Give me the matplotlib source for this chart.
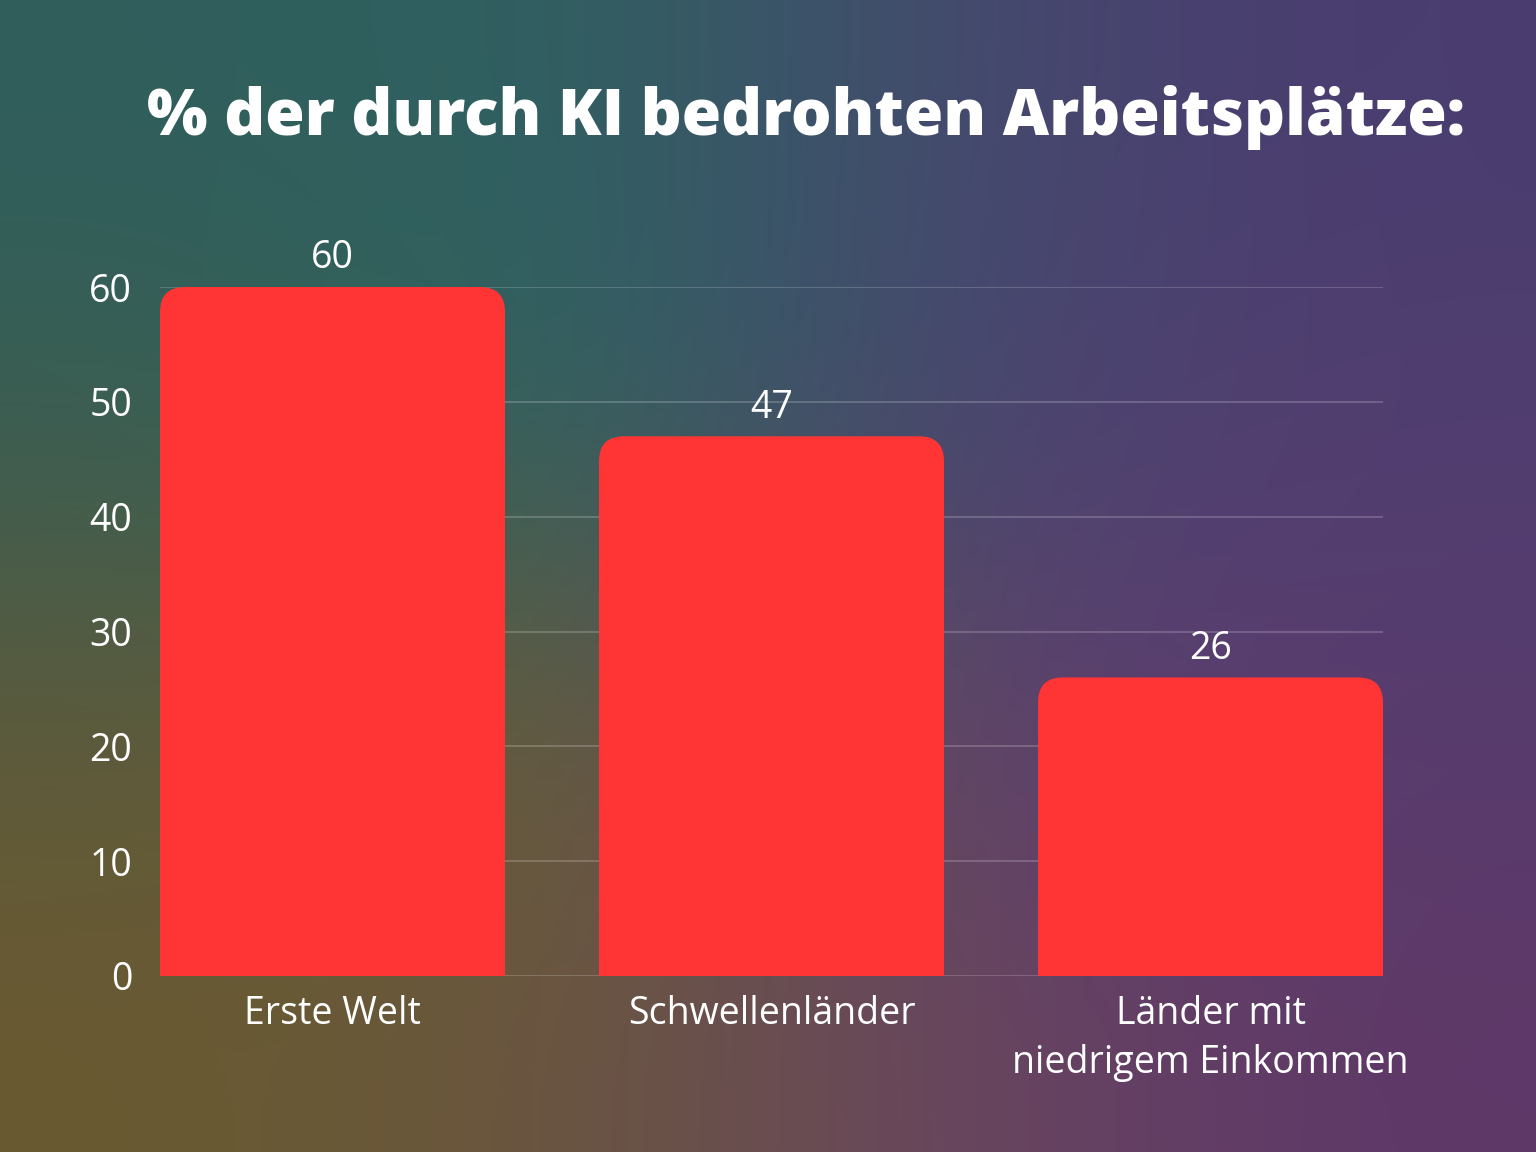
import numpy as np
import matplotlib.pyplot as plt
from matplotlib.path import Path
from matplotlib.patches import PathPatch
from matplotlib.colors import to_rgb

# data
categories = ["Erste Welt", "Schwellenländer", "Länder mit\nniedrigem Einkommen"]
values = [60, 47, 26]
y_ticks = [0, 10, 20, 30, 40, 50, 60]
title = "% der durch KI bedrohten Arbeitsplätze:"

BAR_COLOR = "#ff3535"
FONT = ["Open Sans", "DejaVu Sans"]

# background colour grid (top row first), smoothed by bicubic interpolation
bg_colors = [
    ["#305e5c", "#2e6260", "#46496f", "#4a3c70"],
    ["#3a5e52", "#2b6662", "#4a4470", "#523e70"],
    ["#5d5a3c", "#6a5e35", "#604270", "#573b6e"],
    ["#6a5a30", "#6a5640", "#6a4560", "#5e3868"],
]


def rounded_top_bar(ax, x, height, width, rx, ry, **kw):
    """Bar with rounded top corners, in data coordinates"""
    left, right = x - width / 2, x + width / 2
    ry = min(ry, height / 2)
    verts = [
        (left, 0), (right, 0), (right, height - ry),
        (right, height), (right - rx, height),
        (left + rx, height),
        (left, height), (left, height - ry),
        (left, 0),
    ]
    codes = [Path.MOVETO, Path.LINETO, Path.LINETO,
             Path.CURVE3, Path.CURVE3,
             Path.LINETO,
             Path.CURVE3, Path.CURVE3,
             Path.CLOSEPOLY]
    patch = PathPatch(Path(verts, codes), **kw)
    ax.add_patch(patch)
    return patch


fig = plt.figure(figsize=(15.36, 11.52), dpi=100)

bg_ax = fig.add_axes([0, 0, 1, 1], zorder=-10)
grid = np.array([[to_rgb(c) for c in row] for row in bg_colors])
bg_ax.imshow(grid, aspect="auto", interpolation="bicubic", extent=[0, 1, 0, 1])
bg_ax.axis("off")

ax = fig.add_axes([160 / 1536, 1 - 976 / 1152, (1383 - 160) / 1536, (976 - 287) / 1152])
ax.patch.set_alpha(0)

width = 345 / 439
x = np.arange(len(categories))
rx = 25 / 439
ry = 25 / ((976 - 287) / 60)
for xi, v in zip(x, values):
    rounded_top_bar(ax, xi, v, width, rx, ry, facecolor=BAR_COLOR, edgecolor="none", zorder=3)
    ax.annotate(str(v), (xi, v), xytext=(0, 7), textcoords="offset points",
                ha="center", va="bottom", color="white", fontsize=27, family=FONT)

ax.set_xlim(-width / 2, len(categories) - 1 + width / 2)
ax.set_ylim(0, 60)
ax.set_yticks(y_ticks)
ax.set_xticks(x)
ax.set_xticklabels(categories, linespacing=1.35)
ax.tick_params(axis="both", length=0, colors="white", labelsize=27)
ax.tick_params(axis="y", pad=20)
ax.tick_params(axis="x", pad=14)
for lab in ax.get_xticklabels() + ax.get_yticklabels():
    lab.set_family(FONT)
ax.yaxis.grid(True, color="white", alpha=0.22, linewidth=1.2, zorder=0)
ax.set_axisbelow(True)
for s in ax.spines.values():
    s.set_visible(False)

fig.text(806 / 1536, 1 - 117 / 1152, title, ha="center", va="center",
         color="white", fontsize=46, fontweight="heavy", family=FONT)

fig.savefig("out.png", dpi=100)
